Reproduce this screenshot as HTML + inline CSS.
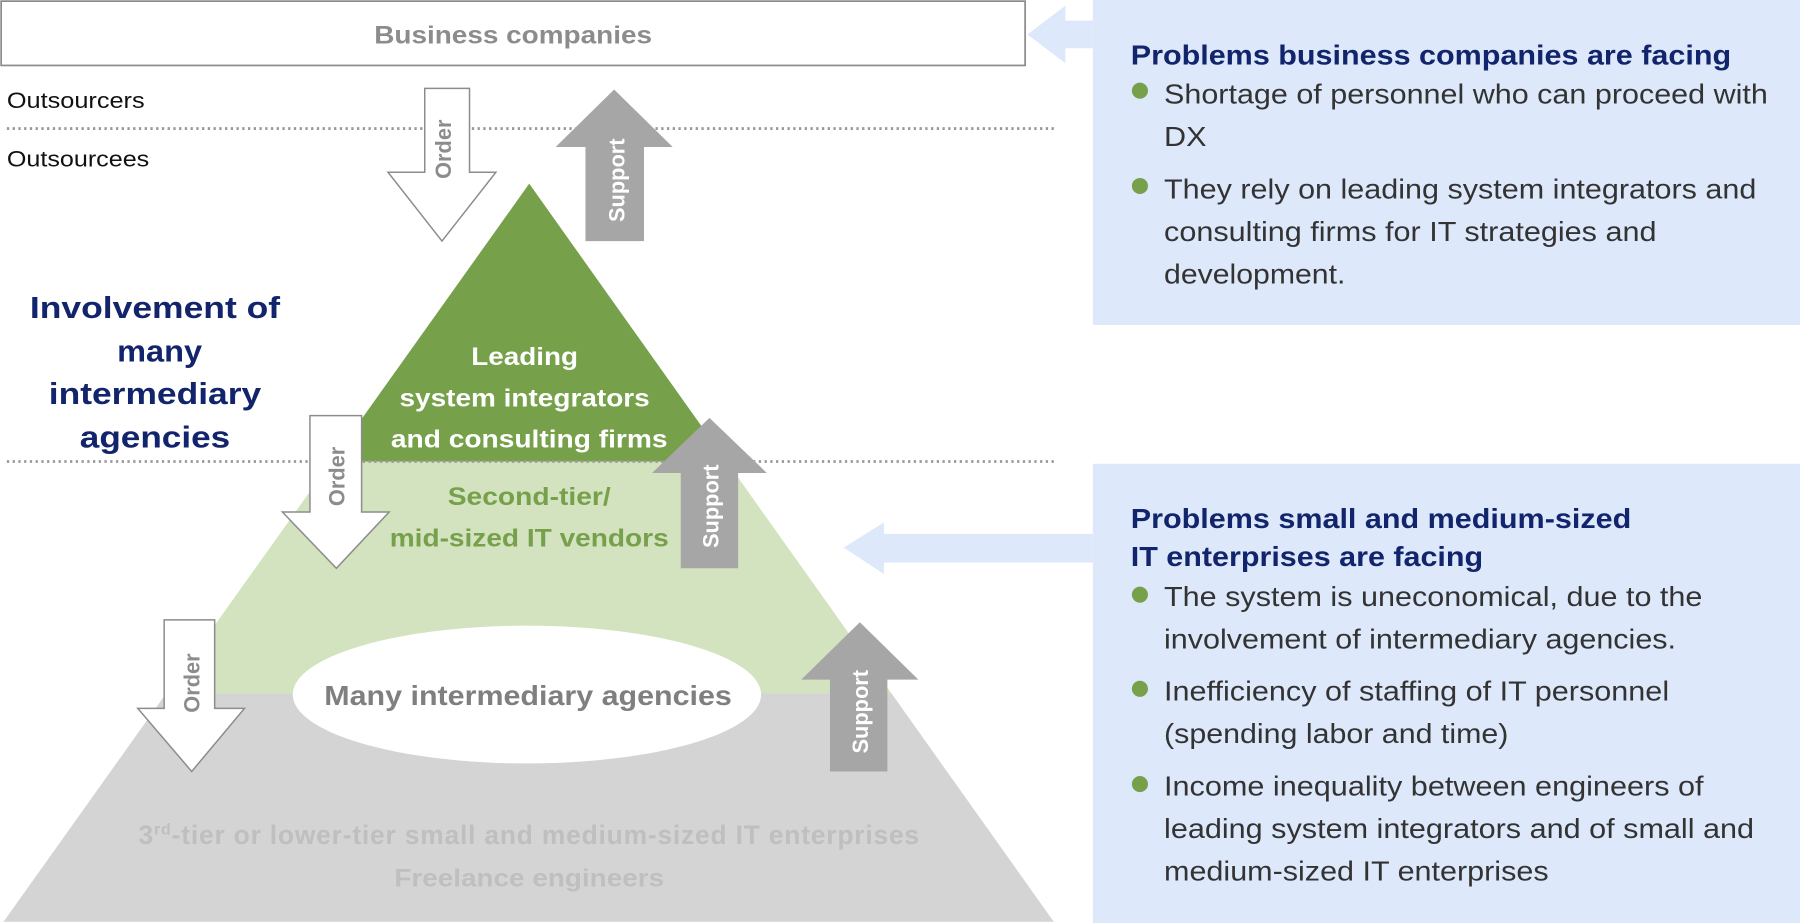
<!DOCTYPE html>
<html><head><meta charset="utf-8"><style>html,body{margin:0;padding:0;background:#fff}svg{display:block}</style></head>
<body>
<svg width="1800" height="923" viewBox="0 0 1568 804" preserveAspectRatio="none" xmlns="http://www.w3.org/2000/svg" font-family="Liberation Sans, Arial, sans-serif">
<!-- panels -->
<rect x="952" y="0" width="616" height="283" fill="#dde8fb"/>
<rect x="952" y="404" width="616" height="400" fill="#dde8fb"/>
<polygon points="895,30 928,5 928,18 952,18 952,42 928,42 928,55" fill="#dde8fb"/>
<polygon points="735,477 770,455 770,465 952,465 952,490 770,490 770,500" fill="#dde8fb"/>
<!-- top box -->
<rect x="1" y="1" width="892" height="56" fill="#fff" stroke="#8c8c8c" stroke-width="1.5"/>
<text x="447" y="38" text-anchor="middle" font-size="22" font-weight="bold" fill="#8c8c8c" textLength="242" lengthAdjust="spacingAndGlyphs">Business companies</text>
<text x="6" y="94" font-size="19" fill="#111" textLength="120" lengthAdjust="spacingAndGlyphs">Outsourcers</text>
<text x="6" y="145" font-size="19" fill="#111" textLength="124" lengthAdjust="spacingAndGlyphs">Outsourcees</text>
<line x1="6" y1="112" x2="918" y2="112" stroke="#999" stroke-width="2.5" stroke-dasharray="2,3"/>
<!-- triangle -->
<defs><clipPath id="tri"><polygon points="461,160 3,803 918,803"/></clipPath></defs>
<g clip-path="url(#tri)">
<rect x="0" y="150" width="920" height="253" fill="#77a04b"/>
<rect x="0" y="402" width="920" height="202" fill="#d3e2bf"/>
<rect x="0" y="604" width="920" height="200" fill="#d4d4d4"/>
</g>
<line x1="6" y1="402" x2="918" y2="402" stroke="#999" stroke-width="2.5" stroke-dasharray="2,3"/>
<ellipse cx="459" cy="605" rx="204" ry="60" fill="#fff"/>
<g font-weight="bold" text-anchor="middle">
<text x="457" y="318" font-size="22" fill="#fff" textLength="93" lengthAdjust="spacingAndGlyphs">Leading</text>
<text x="457" y="354" font-size="22" fill="#fff" textLength="218" lengthAdjust="spacingAndGlyphs">system integrators</text>
<text x="461" y="390" font-size="22" fill="#fff" textLength="241" lengthAdjust="spacingAndGlyphs">and consulting firms</text>
<text x="461" y="440" font-size="22" fill="#77a04b" textLength="142" lengthAdjust="spacingAndGlyphs">Second-tier/</text>
<text x="461" y="476" font-size="22" fill="#77a04b" textLength="243" lengthAdjust="spacingAndGlyphs">mid-sized IT vendors</text>
<text x="460" y="614" font-size="24" fill="#7f7f7f" textLength="355" lengthAdjust="spacingAndGlyphs">Many intermediary agencies</text>
<text x="461" y="735" font-size="23" fill="#bfbfbf" letter-spacing="0.7">3<tspan font-size="14" dy="-8">rd</tspan><tspan dy="8">-tier or lower-tier small and medium-sized IT enterprises</tspan></text>
<text x="461" y="772" font-size="22" fill="#bfbfbf" textLength="235" lengthAdjust="spacingAndGlyphs">Freelance engineers</text>
</g>
<g font-size="27" font-weight="bold" fill="#12246b" text-anchor="middle">
<text x="135" y="277" textLength="218" lengthAdjust="spacingAndGlyphs">Involvement of</text>
<text x="139" y="315" textLength="74" lengthAdjust="spacingAndGlyphs">many</text>
<text x="135" y="352" textLength="185" lengthAdjust="spacingAndGlyphs">intermediary</text>
<text x="135" y="390" textLength="131" lengthAdjust="spacingAndGlyphs">agencies</text>
</g>
<!-- order arrows -->
<g fill="#fff" stroke="#8c8c8c" stroke-width="1.3">
<polygon points="370,77 409,77 409,150 432,150 385,210 338,150 370,150"/>
<polygon points="270,362 315,362 315,446 339,446 293,495 246,446 270,446"/>
<polygon points="143,540 187,540 187,617 213,617 167,672 120,617 143,617"/>
</g>
<!-- support arrows -->
<g fill="#a6a6a6">
<polygon points="535,78 586,128 561,128 561,210 510,210 510,128 484,128"/>
<polygon points="618,364 668,412 643,412 643,495 593,495 593,412 568,412"/>
<polygon points="749,542 800,592 773,592 773,672 723,672 723,592 698,592"/>
</g>
<g font-weight="bold" font-size="19" text-anchor="middle">
<text transform="translate(393,130) rotate(-90)" fill="#8c8c8c">Order</text>
<text transform="translate(300,415) rotate(-90)" fill="#8c8c8c">Order</text>
<text transform="translate(174,595) rotate(-90)" fill="#8c8c8c">Order</text>
<text transform="translate(544,157) rotate(-90)" fill="#fff">Support</text>
<text transform="translate(626,441) rotate(-90)" fill="#fff">Support</text>
<text transform="translate(756,620) rotate(-90)" fill="#fff">Support</text>
</g>
<!-- panel text -->
<g font-size="24" font-weight="bold" fill="#12246b">
<text x="985" y="56" textLength="523" lengthAdjust="spacingAndGlyphs">Problems business companies are facing</text>
<text x="985" y="460" textLength="436" lengthAdjust="spacingAndGlyphs">Problems small and medium-sized</text>
<text x="985" y="493" textLength="307" lengthAdjust="spacingAndGlyphs">IT enterprises are facing</text>
</g>
<g fill="#77a04b">
<circle cx="993" cy="79" r="7"/><circle cx="993" cy="162" r="7"/>
<circle cx="993" cy="518" r="7"/><circle cx="993" cy="600" r="7"/><circle cx="993" cy="683" r="7"/>
</g>
<g font-size="24" fill="#333">
<text x="1014" y="90" textLength="526" lengthAdjust="spacingAndGlyphs">Shortage of personnel who can proceed with</text>
<text x="1014" y="127" textLength="37" lengthAdjust="spacingAndGlyphs">DX</text>
<text x="1014" y="173" textLength="516" lengthAdjust="spacingAndGlyphs">They rely on leading system integrators and</text>
<text x="1014" y="210" textLength="429" lengthAdjust="spacingAndGlyphs">consulting firms for IT strategies and</text>
<text x="1014" y="247" textLength="158" lengthAdjust="spacingAndGlyphs">development.</text>
<text x="1014" y="528" textLength="469" lengthAdjust="spacingAndGlyphs">The system is uneconomical, due to the</text>
<text x="1014" y="565" textLength="446" lengthAdjust="spacingAndGlyphs">involvement of intermediary agencies.</text>
<text x="1014" y="610" textLength="440" lengthAdjust="spacingAndGlyphs">Inefficiency of staffing of IT personnel</text>
<text x="1014" y="647" textLength="300" lengthAdjust="spacingAndGlyphs">(spending labor and time)</text>
<text x="1014" y="693" textLength="470" lengthAdjust="spacingAndGlyphs">Income inequality between engineers of</text>
<text x="1014" y="730" textLength="514" lengthAdjust="spacingAndGlyphs">leading system integrators and of small and</text>
<text x="1014" y="767" textLength="335" lengthAdjust="spacingAndGlyphs">medium-sized IT enterprises</text>
</g>
</svg>
</body></html>
